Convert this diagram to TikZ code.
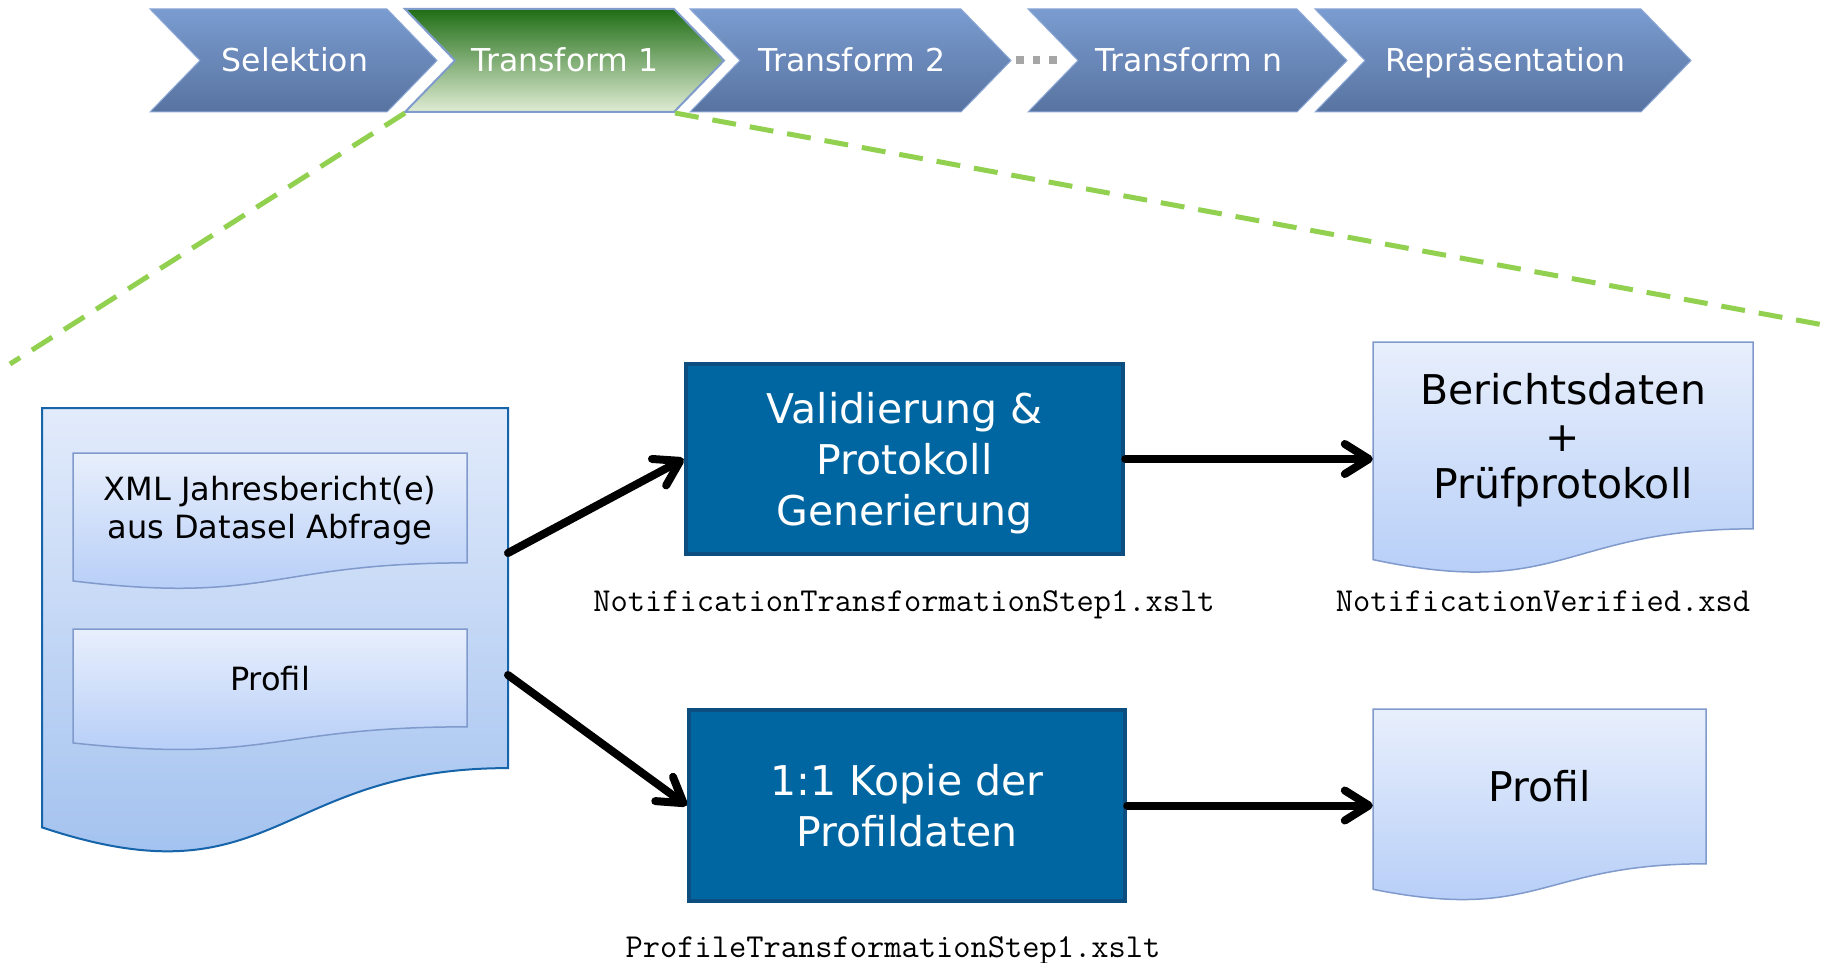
\documentclass[tikz,border=0pt]{standalone}
\usepackage{fontspec}
\setmainfont{DejaVu Sans}
\usetikzlibrary{arrows.meta,calc}

\definecolor{chevtop}{RGB}{122,156,208}
\definecolor{chevbot}{RGB}{88,115,160}
\definecolor{chevline}{RGB}{140,168,214}
\definecolor{greentop}{RGB}{32,110,22}
\definecolor{greenbot}{RGB}{224,236,212}
\definecolor{greenline}{RGB}{127,156,204}
\definecolor{procfill}{RGB}{0,102,161}
\definecolor{procline}{RGB}{12,78,128}
\definecolor{bigtop}{RGB}{226,235,251}
\definecolor{bigbot}{RGB}{157,190,238}
\definecolor{bigline}{RGB}{22,100,170}
\definecolor{doctop}{RGB}{232,239,252}
\definecolor{docbot}{RGB}{178,203,247}
\definecolor{docline}{RGB}{128,154,204}
\definecolor{zoomgreen}{RGB}{146,208,80}
\definecolor{dotgray}{RGB}{166,166,166}

% chevron: left x, right x, style
\newcommand\drawchevron[3]{%
  \path[#3] (#1,9) -- (#2,9) -- ({#2+50},60.5) -- (#2,112) -- (#1,112) -- ({#1+50},60.5) -- cycle;}
% document shape: x1, x2, top y, nominal height, style
\newcommand\drawdocument[5]{%
  \path[#5] (#1,#3) -- (#2,#3) -- (#2,{#3+0.802*#4})
    .. controls ({(#1+#2)/2},{#3+0.802*#4}) and ({(#1+#2)/2},{#3+1.1075*#4}) ..
    (#1,{#3+0.934*#4}) -- cycle;}

\tikzset{
  bluechev/.style={top color=chevtop, bottom color=chevbot, draw=chevline, line width=1pt},
  greenchev/.style={top color=greentop, bottom color=greenbot, draw=greenline, line width=2pt},
  chevtext/.style={anchor=base, text=white, inner sep=0pt, font=\fontsize{31.5}{37}\selectfont},
  bigdoc/.style={top color=bigtop, bottom color=bigbot, draw=bigline, line width=2pt},
  smalldoc/.style={top color=doctop, bottom color=docbot, draw=docline, line width=1.5pt},
  doctextS/.style={align=center, inner sep=0pt, text depth=0pt, font=\fontsize{32}{38}\selectfont},
  doctextL/.style={align=center, inner sep=0pt, text depth=0pt, font=\fontsize{41}{47}\selectfont},
  procbox/.style={fill=procfill, draw=procline, line width=4.5pt, text=white, align=center,
    inner sep=0pt, text depth=0pt, font=\fontsize{41}{51}\selectfont},
  monolabel/.style={anchor=base, inner sep=0pt, font=\ttfamily\fontsize{33.5}{38}\selectfont},
  flowarrow/.style={line width=8pt, line cap=round,
    -{Straight Barb[length=24pt,width=30pt,round]}},
  zoomline/.style={draw=zoomgreen, line width=5pt, dash pattern=on 24pt off 14pt},
}

\begin{document}
\begin{tikzpicture}[x=1pt, y=-1pt]
\useasboundingbox[fill=white] (0,0) rectangle (1831,963);

% ---- process chevrons ----
\drawchevron{150}{387}{bluechev}
\drawchevron{405}{674}{greenchev}
\drawchevron{690}{961}{bluechev}
\drawchevron{1028}{1297}{bluechev}
\drawchevron{1315}{1641}{bluechev}
\node[chevtext] (ch1) at (295,72) {Selektion};
\node[chevtext] (ch2) at (565,72) {Transform 1};
\node[chevtext] (ch3) at (852,72) {Transform 2};
\node[chevtext] (ch4) at (1189,72) {Transform n};
\node[chevtext] (ch5) at (1505,72) {Repräsentation};

% dots between Transform 2 and Transform n
\fill[dotgray] (1016,56.5) rectangle (1023.5,64);
\fill[dotgray] (1032.5,56.5) rectangle (1040,64);
\fill[dotgray] (1049,56.5) rectangle (1056.5,64);

% ---- zoom lines ----
\coordinate (zoomL) at (405,113);
\coordinate (zoomR) at (675,113);
\coordinate (zoomLend) at (10,364);
\coordinate (zoomRend) at (1829,326);
\draw[zoomline] (zoomL) -- (zoomLend);
\draw[zoomline] (zoomR) -- (zoomRend);

% ---- input document ----
\drawdocument{42}{508}{408}{449}{bigdoc}
\drawdocument{73}{467}{453}{137}{smalldoc}
\drawdocument{73}{467}{629}{122}{smalldoc}
\node[doctextS] (xml) at (270,507) {XML Jahresbericht(e)\\aus Datasel Abfrage};
\node[doctextS] (profin) at (270,678) {Profil};
\coordinate (outA) at (508,553);
\coordinate (outB) at (508,675);

% ---- processing boxes ----
\node[procbox, minimum width=437pt, minimum height=190pt] (val) at (904.5,459)
  {Validierung \&\\Protokoll\\Generierung};
\node[procbox, minimum width=436pt, minimum height=191pt] (copy) at (907,805.5)
  {1:1 Kopie der\\Profildaten};

% ---- output documents ----
\drawdocument{1373}{1753}{342}{233}{smalldoc}
\drawdocument{1373}{1706}{709}{193}{smalldoc}
\node[doctextL, minimum width=380pt] (rdoc1) at (1563,436) {Berichtsdaten\\+\\Prüfprotokoll};
\node[doctextL, minimum width=333pt] (rdoc2) at (1539.5,786) {Profil};

% ---- labels ----
\node[monolabel] (lab1) at (904,611) {NotificationTransformationStep1.xslt};
\node[monolabel] (lab2) at (1543,611) {NotificationVerified.xsd};
\node[monolabel] (lab3) at (893,957) {ProfileTransformationStep1.xslt};

% ---- connectors ----
\draw[flowarrow] (outA) -- (val.west);
\draw[flowarrow] (outB) -- (copy.west);
\draw[flowarrow] (val.east) -- (val.east -| rdoc1.west);
\draw[flowarrow] (copy.east) -- (copy.east -| rdoc2.west);
\end{tikzpicture}
\end{document}
